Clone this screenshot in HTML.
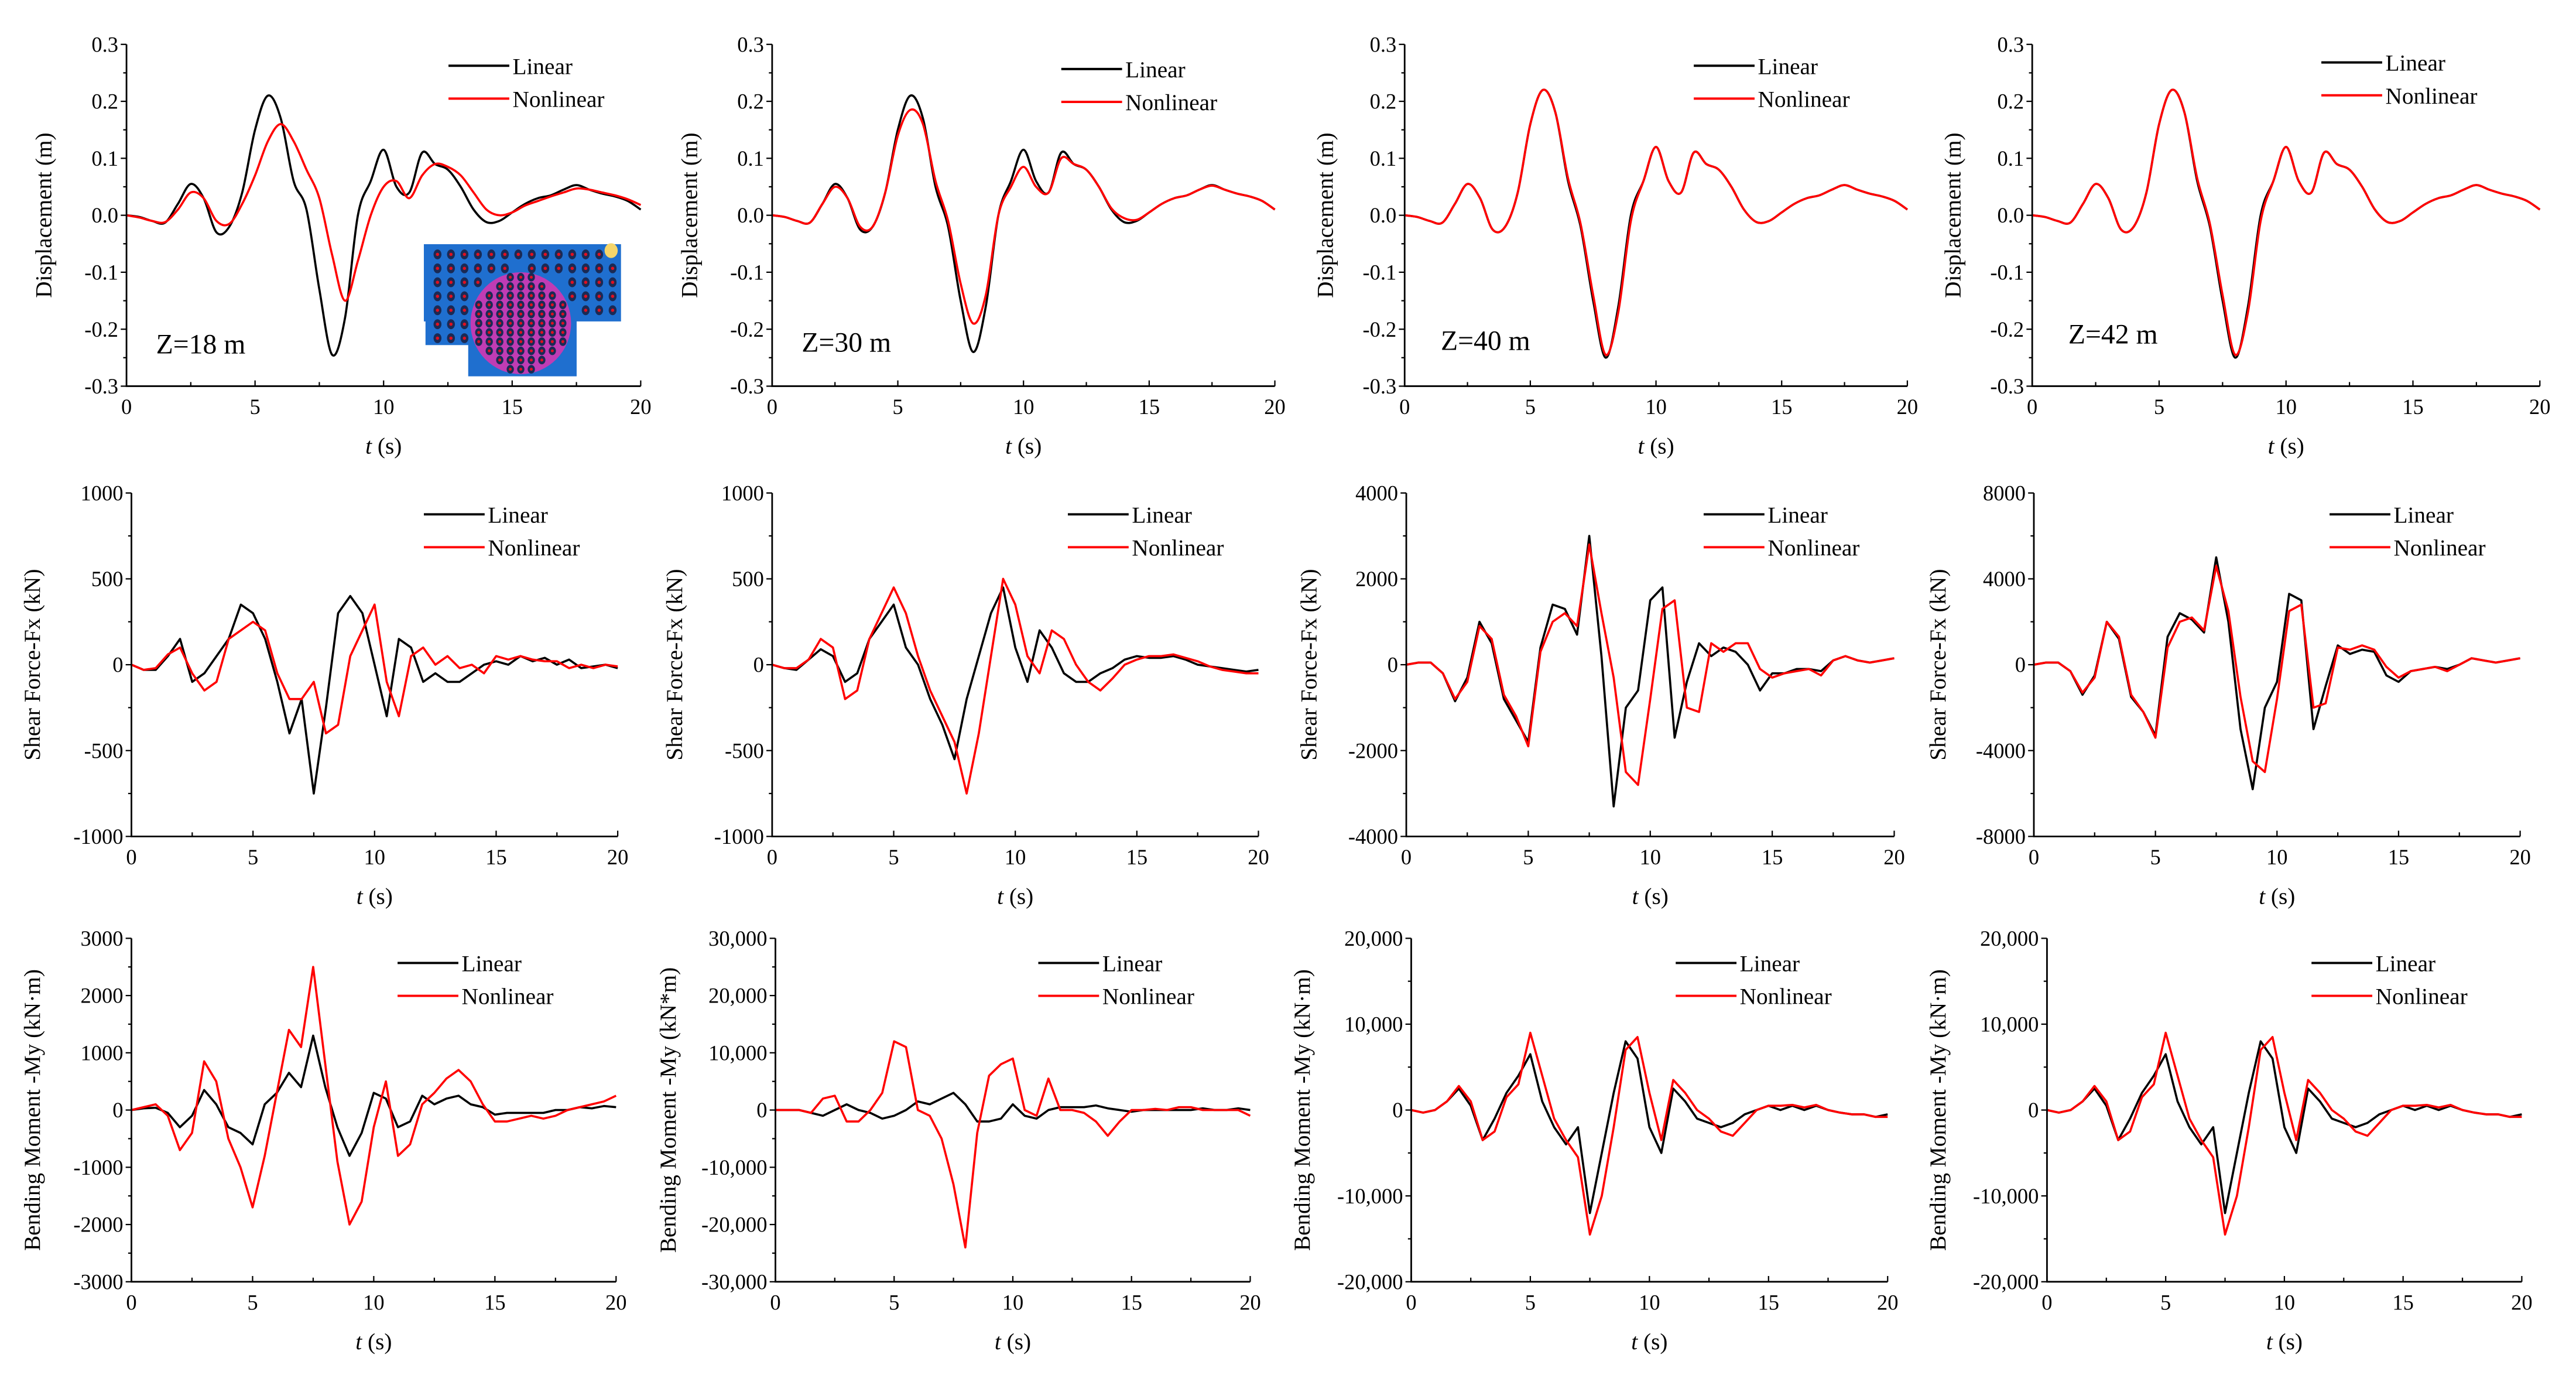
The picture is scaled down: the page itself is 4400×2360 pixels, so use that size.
<!DOCTYPE html>
<html><head><meta charset="utf-8"><style>
html,body{margin:0;padding:0;background:#fff;}
svg{display:block;}
text{font-family:"Liberation Serif",serif;fill:#000;}
</style></head><body>
<svg id="fig" width="4400" height="2360" viewBox="0 0 1568 841" preserveAspectRatio="none" xmlns="http://www.w3.org/2000/svg"></svg>
<script>
const times = [0,0.5,1,1.5,2,2.5,3,3.5,4,4.5,5,5.5,6,6.5,7,7.5,8,8.5,9,9.5,10,10.5,11,11.5,12,12.5,13,13.5,14,14.5,15,15.5,16,16.5,17,17.5,18,18.5,19,19.5,20];
const xTickLabels = ["0","5","10","15","20"];
const seriesNames = ["Linear","Nonlinear"];

const d18Lin = [0,-0.003,-0.01,-0.013,0.02,0.055,0.03,-0.03,-0.02,0.04,0.15,0.21,0.17,0.06,0.01,-0.13,-0.245,-0.18,0.0,0.06,0.115,0.05,0.04,0.11,0.09,0.08,0.05,0.01,-0.012,-0.01,0.005,0.02,0.03,0.035,0.045,0.053,0.045,0.038,0.033,0.025,0.01];
const d18Non = [0,-0.004,-0.01,-0.012,0.01,0.04,0.03,-0.01,-0.015,0.02,0.07,0.13,0.16,0.13,0.08,0.03,-0.07,-0.15,-0.08,0.0,0.05,0.06,0.03,0.07,0.09,0.085,0.07,0.04,0.01,0.0,0.005,0.017,0.025,0.033,0.04,0.047,0.045,0.04,0.035,0.028,0.018];
const d30Lin = [0,-0.003,-0.01,-0.013,0.02,0.055,0.03,-0.025,-0.02,0.04,0.15,0.21,0.17,0.05,-0.02,-0.15,-0.24,-0.16,0.0,0.06,0.115,0.06,0.04,0.11,0.09,0.08,0.05,0.01,-0.012,-0.01,0.005,0.02,0.03,0.035,0.045,0.053,0.045,0.038,0.033,0.025,0.01];
const d30Non = [0,-0.003,-0.01,-0.013,0.02,0.05,0.03,-0.02,-0.02,0.04,0.14,0.185,0.16,0.06,-0.01,-0.12,-0.19,-0.14,0.0,0.05,0.085,0.05,0.04,0.1,0.09,0.08,0.05,0.012,-0.005,-0.008,0.005,0.02,0.03,0.035,0.045,0.052,0.045,0.038,0.033,0.025,0.01];
const d40Lin = [0,-0.003,-0.01,-0.013,0.02,0.055,0.03,-0.025,-0.02,0.04,0.16,0.22,0.18,0.06,-0.02,-0.15,-0.25,-0.16,0.0,0.06,0.12,0.06,0.04,0.11,0.09,0.08,0.05,0.01,-0.012,-0.01,0.005,0.02,0.03,0.035,0.045,0.053,0.045,0.038,0.033,0.025,0.01];
const d40Non = [0,-0.003,-0.01,-0.013,0.02,0.055,0.03,-0.025,-0.02,0.04,0.16,0.22,0.18,0.065,-0.015,-0.14,-0.245,-0.17,-0.01,0.06,0.12,0.06,0.04,0.11,0.09,0.08,0.05,0.01,-0.012,-0.01,0.005,0.02,0.03,0.035,0.045,0.053,0.045,0.038,0.033,0.025,0.01];
const d42Lin = [0,-0.003,-0.01,-0.013,0.02,0.055,0.03,-0.025,-0.02,0.04,0.16,0.22,0.18,0.06,-0.02,-0.15,-0.25,-0.16,0.0,0.06,0.12,0.06,0.04,0.11,0.09,0.08,0.05,0.01,-0.012,-0.01,0.005,0.02,0.03,0.035,0.045,0.053,0.045,0.038,0.033,0.025,0.01];
const d42Non = [0,-0.003,-0.01,-0.013,0.02,0.055,0.03,-0.025,-0.02,0.04,0.16,0.22,0.18,0.065,-0.015,-0.14,-0.245,-0.17,-0.01,0.06,0.12,0.06,0.04,0.11,0.09,0.08,0.05,0.01,-0.012,-0.01,0.005,0.02,0.03,0.035,0.045,0.053,0.045,0.038,0.033,0.025,0.01];

const f18Lin = [0,-30,-30,50,150,-100,-50,50,150,350,300,150,-100,-400,-200,-750,-250,300,400,300,0,-300,150,100,-100,-50,-100,-100,-50,0,20,0,50,20,40,0,30,-20,-10,0,-20];
const f18Non = [0,-30,-20,60,100,-50,-150,-100,150,200,250,200,-50,-200,-200,-100,-400,-350,50,200,350,-100,-300,50,100,0,50,-20,0,-50,50,30,50,30,20,20,-20,0,-20,0,-10];
const f30Lin = [0,-20,-30,30,90,50,-100,-50,150,250,350,100,0,-200,-350,-550,-200,50,300,450,100,-100,200,100,-50,-100,-100,-50,-20,30,50,40,40,50,30,0,-10,-20,-30,-40,-30];
const f30Non = [0,-20,-20,30,150,100,-200,-150,150,300,450,300,50,-150,-300,-450,-750,-400,50,500,350,50,-50,200,150,0,-100,-150,-80,0,30,50,50,60,40,20,-10,-30,-40,-50,-50];
const f40Lin = [0,50,50,-200,-850,-300,1000,500,-800,-1300,-1800,400,1400,1300,700,3000,200,-3300,-1000,-600,1500,1800,-1700,-400,500,200,400,300,0,-600,-200,-200,-100,-100,-150,100,200,100,50,100,150];
const f40Non = [0,50,50,-200,-800,-400,900,600,-700,-1200,-1900,300,1000,1200,900,2800,1200,-300,-2500,-2800,-800,1300,1500,-1000,-1100,500,300,500,500,-100,-300,-200,-150,-100,-250,100,200,100,50,100,150];
const f42Lin = [0,100,100,-300,-1400,-500,2000,1200,-1500,-2200,-3300,1300,2400,2100,1500,5000,2000,-3000,-5800,-2000,-800,3300,3000,-3000,-1000,900,500,700,600,-500,-800,-300,-200,-100,-200,0,300,200,100,200,300];
const f42Non = [0,100,100,-300,-1300,-600,2000,1300,-1400,-2200,-3400,800,2000,2200,1600,4600,2500,-1500,-4500,-5000,-1600,2500,2800,-2000,-1800,800,700,900,700,-100,-600,-300,-200,-100,-300,0,300,200,100,200,300];

const m18Lin = [0,30,40,-50,-300,-100,350,100,-300,-400,-600,100,300,650,400,1300,400,-300,-800,-400,300,200,-300,-200,250,100,200,250,100,50,-80,-50,-50,-50,-50,0,0,50,30,70,50];
const m18Non = [0,50,100,-100,-700,-400,850,500,-500,-1000,-1700,-800,300,1400,1100,2500,800,-900,-2000,-1600,-300,500,-800,-600,100,300,550,700,500,100,-200,-200,-150,-100,-150,-100,0,50,100,150,250];
const m30Lin = [0,0,0,-500,-1000,0,1000,0,-500,-1500,-1000,0,1500,1000,2000,3000,1000,-2000,-2000,-1500,1000,-1000,-1500,0,500,500,500,800,300,0,-300,0,0,0,0,0,300,0,0,300,0];
const m30Non = [0,0,0,-500,2000,2500,-2000,-2000,0,3000,12000,11000,0,-1000,-5000,-13000,-24000,-4000,6000,8000,9000,0,-1000,5500,0,0,-500,-2000,-4500,-2000,0,0,200,0,500,500,0,0,0,0,-1000];
const m40Lin = [0,-300,0,1000,2500,500,-3500,-1000,2000,4000,6500,1000,-2000,-4000,-2000,-12000,-5000,2000,8000,6000,-2000,-5000,2500,1000,-1000,-1500,-2000,-1500,-500,0,500,0,500,0,500,0,-300,-500,-500,-800,-500];
const m40Non = [0,-300,0,1000,2800,1000,-3500,-2500,1500,3000,9000,4000,-1000,-3500,-5500,-14500,-10000,-2000,7000,8500,2000,-3500,3500,2000,0,-1000,-2500,-3000,-1500,0,500,500,600,300,600,0,-300,-500,-500,-800,-800];
const m42Lin = [0,-300,0,1000,2500,500,-3500,-1000,2000,4000,6500,1000,-2000,-4000,-2000,-12000,-5000,2000,8000,6000,-2000,-5000,2500,1000,-1000,-1500,-2000,-1500,-500,0,500,0,500,0,500,0,-300,-500,-500,-800,-500];
const m42Non = [0,-300,0,1000,2800,1000,-3500,-2500,1500,3000,9000,4000,-1000,-3500,-5500,-14500,-10000,-2000,7000,8500,2000,-3500,3500,2000,0,-1000,-2500,-3000,-1500,0,500,500,600,300,600,0,-300,-500,-500,-800,-800];

const dispTickLabels = ["0.3","0.2","0.1","0.0","-0.1","-0.2","-0.3"];
const f1kTickLabels = ["1000","500","0","-500","-1000"];
const f4kTickLabels = ["4000","2000","0","-2000","-4000"];
const f8kTickLabels = ["8000","4000","0","-4000","-8000"];
const m3kTickLabels = ["3000","2000","1000","0","-1000","-2000","-3000"];
const m30kTickLabels = ["30,000","20,000","10,000","0","-10,000","-20,000","-30,000"];
const m20kTickLabels = ["20,000","10,000","0","-10,000","-20,000"];

const NS = "http://www.w3.org/2000/svg";
const svg = document.getElementById('fig');
function mk(tag, attrs, parent){const e=document.createElementNS(NS,tag);for(const k in attrs)e.setAttribute(k,attrs[k]);(parent||svg).appendChild(e);return e;}

const panels = [
 {id:'disp-z18',x0:77,x1:390,yt:27,yb:235,ymax:0.3,ymin:-0.3,labels:dispTickLabels,minor:0.05,title:'Displacement (m)',tx:28,lx:273,ly:40,lin:d18Lin,non:d18Non,z:'Z=18 m',zx:95,zy:215,smooth:true},
 {id:'disp-z30',x0:470,x1:776,yt:27,yb:235,ymax:0.3,ymin:-0.3,labels:dispTickLabels,minor:0.05,title:'Displacement (m)',tx:421,lx:646,ly:42,lin:d30Lin,non:d30Non,z:'Z=30 m',zx:488,zy:214,smooth:true},
 {id:'disp-z40',x0:855,x1:1161,yt:27,yb:235,ymax:0.3,ymin:-0.3,labels:dispTickLabels,minor:0.05,title:'Displacement (m)',tx:808,lx:1031,ly:40,lin:d40Lin,non:d40Non,z:'Z=40 m',zx:877,zy:213,smooth:true},
 {id:'disp-z42',x0:1237,x1:1546,yt:27,yb:235,ymax:0.3,ymin:-0.3,labels:dispTickLabels,minor:0.05,title:'Displacement (m)',tx:1190,lx:1413,ly:38,lin:d42Lin,non:d42Non,z:'Z=42 m',zx:1259,zy:209,smooth:true},
 {id:'shear-z18',x0:80,x1:376,yt:300,yb:509,ymax:1000,ymin:-1000,labels:f1kTickLabels,minor:250,title:'Shear Force-Fx (kN)',tx:21,lx:258,ly:313,lin:f18Lin,non:f18Non},
 {id:'shear-z30',x0:470,x1:766,yt:300,yb:509,ymax:1000,ymin:-1000,labels:f1kTickLabels,minor:250,title:'Shear Force-Fx (kN)',tx:412,lx:650,ly:313,lin:f30Lin,non:f30Non},
 {id:'shear-z40',x0:856,x1:1153,yt:300,yb:509,ymax:4000,ymin:-4000,labels:f4kTickLabels,minor:1000,title:'Shear Force-Fx (kN)',tx:798,lx:1037,ly:313,lin:f40Lin,non:f40Non},
 {id:'shear-z42',x0:1238,x1:1534,yt:300,yb:509,ymax:8000,ymin:-8000,labels:f8kTickLabels,minor:2000,title:'Shear Force-Fx (kN)',tx:1181,lx:1418,ly:313,lin:f42Lin,non:f42Non},
 {id:'moment-z18',x0:80,x1:375,yt:571,yb:780,ymax:3000,ymin:-3000,labels:m3kTickLabels,minor:500,title:'Bending Moment -My (kN·m)',tx:21,lx:242,ly:586,lin:m18Lin,non:m18Non},
 {id:'moment-z30',x0:472,x1:761,yt:571,yb:780,ymax:30000,ymin:-30000,labels:m30kTickLabels,minor:5000,title:'Bending Moment -My (kN*m)',tx:408,lx:632,ly:586,lin:m30Lin,non:m30Non},
 {id:'moment-z40',x0:859,x1:1149,yt:571,yb:780,ymax:20000,ymin:-20000,labels:m20kTickLabels,minor:5000,title:'Bending Moment -My (kN·m)',tx:794,lx:1020,ly:586,lin:m40Lin,non:m40Non},
 {id:'moment-z42',x0:1246,x1:1535,yt:571,yb:780,ymax:20000,ymin:-20000,labels:m20kTickLabels,minor:5000,title:'Bending Moment -My (kN·m)',tx:1181,lx:1407,ly:586,lin:m42Lin,non:m42Non}
];

function pathFrom(pts, smooth){
  if(!smooth){return pts.map((p,i)=>(i?'L':'M')+p[0].toFixed(2)+','+p[1].toFixed(2)).join('');}
  let d='M'+pts[0][0].toFixed(2)+','+pts[0][1].toFixed(2);
  for(let i=0;i<pts.length-1;i++){
    const p0=pts[Math.max(0,i-1)],p1=pts[i],p2=pts[i+1],p3=pts[Math.min(pts.length-1,i+2)];
    const c1x=p1[0]+(p2[0]-p0[0])/6,c1y=p1[1]+(p2[1]-p0[1])/6;
    const c2x=p2[0]-(p3[0]-p1[0])/6,c2y=p2[1]-(p3[1]-p1[1])/6;
    d+='C'+c1x.toFixed(2)+','+c1y.toFixed(2)+' '+c2x.toFixed(2)+','+c2y.toFixed(2)+' '+p2[0].toFixed(2)+','+p2[1].toFixed(2);
  }
  return d;
}

function drawPanel(p){
  const g = mk('g',{});
  
  
  const xs = t => p.x0 + (t-0)/(20-0)*(p.x1-p.x0);
  const ys = v => p.yb - (v-p.ymin)/(p.ymax-p.ymin)*(p.yb-p.yt);
  [[p.lin,'#000','linear'],[p.non,'#f00','nonlinear']].forEach(([arr,col,nm])=>{
    const pts=[];
    for(let i=0;i<arr.length && i<times.length;i++){pts.push([xs(times[i]),ys(arr[i])]);}
    const path = mk('path',{d:pathFrom(pts,p.smooth),fill:'none',stroke:col,'stroke-width':1.3,'stroke-linejoin':'round'},g);
    
    
  });
  const ax = mk('path',{d:`M${p.x0},${p.yt}L${p.x0},${p.yb}L${p.x1},${p.yb}`,fill:'none',stroke:'#000','stroke-width':1},g);
  
  
  const n = p.labels.length;
  const step = (p.ymax-p.ymin)/(n-1);
  for(let v=p.ymin; v<=p.ymax+1e-9; v+=p.minor){
    const isMajor = Math.abs(((v-p.ymin)/step)-Math.round((v-p.ymin)/step))<1e-6;
    mk('line',{x1:p.x0-(isMajor?3.5:2),x2:p.x0,y1:ys(v),y2:ys(v),stroke:'#000','stroke-width':0.8},g);
  }
  p.labels.forEach((lab,i)=>{
    const v = p.ymax - i*step;
    const t = mk('text',{x:p.x0-5,y:ys(v)+4.5,'font-size':13,'text-anchor':'end'},g);
    t.textContent = lab;
    
    
  });
  for(let tt=0; tt<=20; tt+=2.5){
    mk('line',{x1:xs(tt),x2:xs(tt),y1:p.yb,y2:p.yb-(tt%5===0?3.5:2.5),stroke:'#000','stroke-width':0.8},g);
  }
  xTickLabels.forEach((lab,i)=>{
    const t = mk('text',{x:xs(i*5),y:p.yb+17,'font-size':13,'text-anchor':'middle'},g);
    t.textContent = lab;
    
    
  });
  const xt = mk('text',{x:(p.x0+p.x1)/2,y:p.yb+41,'font-size':14,'text-anchor':'middle'},g);
  xt.innerHTML = '<tspan font-style="italic">t</tspan> (s)';
  
  
  const cy=(p.yt+p.yb)/2;
  const yt = mk('text',{x:p.tx,y:cy,'font-size':14,'text-anchor':'middle',transform:`rotate(-90 ${p.tx} ${cy})`,'dominant-baseline':'middle'},g);
  yt.textContent = p.title;
  
  
  [['#000',0],['#f00',20]].forEach(([col,dy],i)=>{
    const le = mk('g',{},g);
    
    
    mk('line',{x1:p.lx,x2:p.lx+37,y1:p.ly+dy,y2:p.ly+dy,stroke:col,'stroke-width':1.4},le);
    const t = mk('text',{x:p.lx+39,y:p.ly+dy+5,'font-size':14},le);
    t.textContent = seriesNames[i];
  });
  if(p.z){
    const zt = mk('text',{x:p.zx,y:p.zy,'font-size':17},g);
    zt.textContent = p.z;
    
    
  }
}
panels.forEach(drawPanel);

(function(){
  const g = mk('g',{});
  
  
  const blue='#1f6fcf';
  mk('rect',{x:258,y:148.6,width:120,height:47,fill:blue},g);
  mk('rect',{x:259,y:195,width:27,height:15,fill:blue},g);
  mk('rect',{x:285,y:195,width:66,height:34,fill:blue},g);
  const cx=317, cy=196.7, r=31;
  mk('ellipse',{cx:cx,cy:cy,rx:30.6,ry:31,fill:'#c03cb4'},g);
  function inBlue(x,y){return (x>258&&x<378&&y>148.6&&y<195.7)||(x>259&&x<285&&y<210&&y>148)||(x>285&&x<351&&y<229&&y>148);}
  for(let k=0;k<7;k++){for(let j=0;j<14;j++){
    const x=266.3+j*8.2, y=154.8+k*8.5;
    if(!inBlue(x,y)) continue;
    if(Math.hypot(x-cx,y-cy)<r+3) continue;
    if(j===13&&k===0) continue;
    mk('ellipse',{cx:x,cy:y,rx:2.4,ry:3,fill:'#1a2a55'},g);
    mk('circle',{cx:x,cy:y,r:1,fill:'#e01020'},g);
  }}
  for(let k=-5;k<=5;k++){for(let j=-4;j<=4;j++){
    const x=cx+j*6.4, y=cy+k*5.6;
    if(Math.hypot((x-cx)/28,(y-cy)/29)>1) continue;
    mk('ellipse',{cx:x,cy:y,rx:2.2,ry:2.6,fill:'#1a2a55'},g);
    mk('circle',{cx:x,cy:y,r:0.9,fill:'#e01020'},g);
  }}
  mk('ellipse',{cx:372,cy:152.5,rx:4,ry:4.5,fill:'#f5d56a'},g);
})();
</script>
</body></html>
